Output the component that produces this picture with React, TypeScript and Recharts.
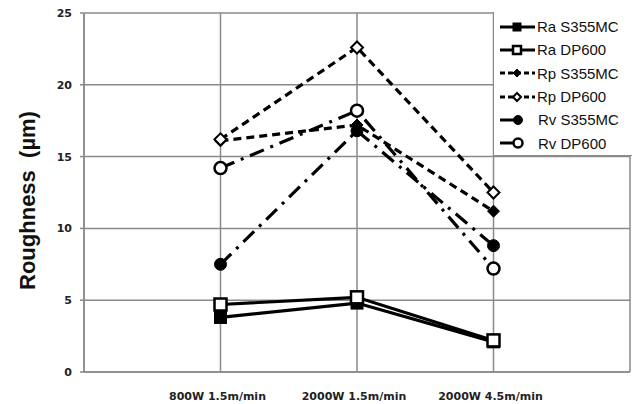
import React from 'react';
import { LineChart, Line, XAxis, YAxis, CartesianGrid } from 'recharts';

// x positions 1..3, the axis runs 0..4 so the plot has the same gap on both sides
const categories = ['800W 1.5m/min', '2000W 1.5m/min', '2000W 4.5m/min'];
const yTicks = [0, 5, 10, 15, 20, 25];

const raS355MC = [3.8, 4.8, 2.1];
const raDP600 = [4.7, 5.2, 2.2];
const rpS355MC = [16.1, 17.2, 11.2];
const rpDP600 = [16.2, 22.6, 12.5];
const rvS355MC = [7.5, 16.8, 8.8];
const rvDP600 = [14.2, 18.2, 7.2];

const data = categories.map((c, i) => ({
  x: i + 1,
  name: c,
  raS: raS355MC[i],
  raD: raDP600[i],
  rpS: rpS355MC[i],
  rpD: rpDP600[i],
  rvS: rvS355MC[i],
  rvD: rvDP600[i],
}));

type Shape = 'square' | 'diamond' | 'circle';

const series: { key: string; name: string; shape: Shape; filled: boolean; dash?: string }[] = [
  { key: 'raS', name: 'Ra S355MC', shape: 'square', filled: true },
  { key: 'raD', name: 'Ra DP600', shape: 'square', filled: false },
  { key: 'rpS', name: 'Rp S355MC', shape: 'diamond', filled: true, dash: '8 5' },
  { key: 'rpD', name: 'Rp DP600', shape: 'diamond', filled: false, dash: '8 5' },
  { key: 'rvS', name: 'Rv S355MC', shape: 'circle', filled: true, dash: '15 7 3 7' },
  { key: 'rvD', name: 'Rv DP600', shape: 'circle', filled: false, dash: '15 7 3 7' },
];

const GRID = '#8a8a8a';

const marker = (shape: Shape, filled: boolean, cx: number, cy: number, s: number, key?: string) => {
  const fill = filled ? '#000' : '#fff';
  const sw = filled ? 1 : 2.5;
  if (shape === 'square') {
    return <rect key={key} x={cx - s / 2} y={cy - s / 2} width={s} height={s} fill={fill} stroke="#000" strokeWidth={sw} />;
  }
  if (shape === 'diamond') {
    const h = s / 2;
    return (
      <path key={key} d={`M${cx},${cy - h}L${cx + h},${cy}L${cx},${cy + h}L${cx - h},${cy}Z`}
        fill={fill} stroke="#000" strokeWidth={filled ? 1 : 2} />
    );
  }
  return <circle key={key} cx={cx} cy={cy} r={s / 2} fill={fill} stroke="#000" strokeWidth={sw} />;
};

// legend sits inside the plot, top right, covering the grid
const LegendBox = () => (
  <div style={{
    position: 'absolute', left: 493, top: 12,
    background: '#fff', borderLeft: `1.5px solid ${GRID}`, borderBottom: `1.5px solid ${GRID}`,
    width: 139, height: 144, boxSizing: 'border-box', paddingTop: 3,
    fontFamily: '"Liberation Sans", Arial, sans-serif', fontSize: 15, color: '#111',
  }}>
    {series.map((s) => (
      <div key={s.key} style={{ display: 'flex', alignItems: 'center', height: 23.3 }}>
        <svg width={43} height={20} style={{ flex: 'none' }}>
          {s.shape === 'circle' ? (
            <line x1={6} x2={20} y1={10} y2={10} stroke="#000" strokeWidth={3} />
          ) : (
            <line x1={6} x2={41} y1={10} y2={10} stroke="#000" strokeWidth={3}
              strokeDasharray={s.dash ? '5 3' : undefined} />
          )}
          {marker(s.shape, s.filled, s.shape === 'circle' ? 24 : 23, 10, s.shape === 'circle' ? 9 : 8)}
        </svg>
        <span style={{ marginLeft: s.shape === 'circle' ? 1 : 0 }}>{s.name}</span>
      </div>
    ))}
  </div>
);

const YLabel = (props: any) => {
  const { viewBox } = props;
  const x = viewBox.x + 27;
  const y = viewBox.y + viewBox.height / 2 + 8;
  return (
    <text x={x} y={y} transform={`rotate(-90 ${x} ${y})`} textAnchor="middle" dominantBaseline="central"
      style={{ fontFamily: '"Liberation Sans", Arial, sans-serif', fontSize: 22, fontWeight: 'bold', fill: '#111', whiteSpace: 'pre' }}>
      {'Roughness  (µm)'}
    </text>
  );
};

const tickStyle = { fontFamily: '"DejaVu Sans", Verdana, sans-serif', fontSize: 11, fontWeight: 'bold', fill: '#222' };

export default function App() {
  return (
    <div style={{ position: 'absolute', left: 0, top: 0, width: 632, height: 404, background: '#fff' }}>
      <LineChart width={632} height={404} data={data} margin={{ top: 13, right: 2, bottom: 0, left: 0 }}>
        <CartesianGrid stroke={GRID} strokeWidth={1.5} />
        <XAxis type="number" dataKey="x" domain={[0, 4]} ticks={[1, 2, 3]} interval={0}
          tickFormatter={(v: number) => categories[v - 1] ?? ''}
          tickLine={false} axisLine={{ stroke: GRID, strokeWidth: 1.5 }} height={32}
          tickSize={0} tickMargin={20} tick={{ ...tickStyle, dx: -3 }} />
        <YAxis domain={[0, 25]} ticks={yTicks} interval={0} width={84}
          tickSize={4} tickMargin={8} tick={tickStyle}
          axisLine={{ stroke: GRID, strokeWidth: 1.5 }} tickLine={{ stroke: GRID, strokeWidth: 1.5 }}
          label={{ content: YLabel }} />
        {series.map((s) => (
          <Line key={s.key} dataKey={s.key} name={s.name} type="linear" stroke="#000" strokeWidth={3.2}
            strokeDasharray={s.dash} isAnimationActive={false}
            dot={(p: any) => marker(s.shape, s.filled, p.cx, p.cy, 12, `${s.key}-${p.index}`)}
            activeDot={false} />
        ))}
      </LineChart>
      <LegendBox />
    </div>
  );
}
